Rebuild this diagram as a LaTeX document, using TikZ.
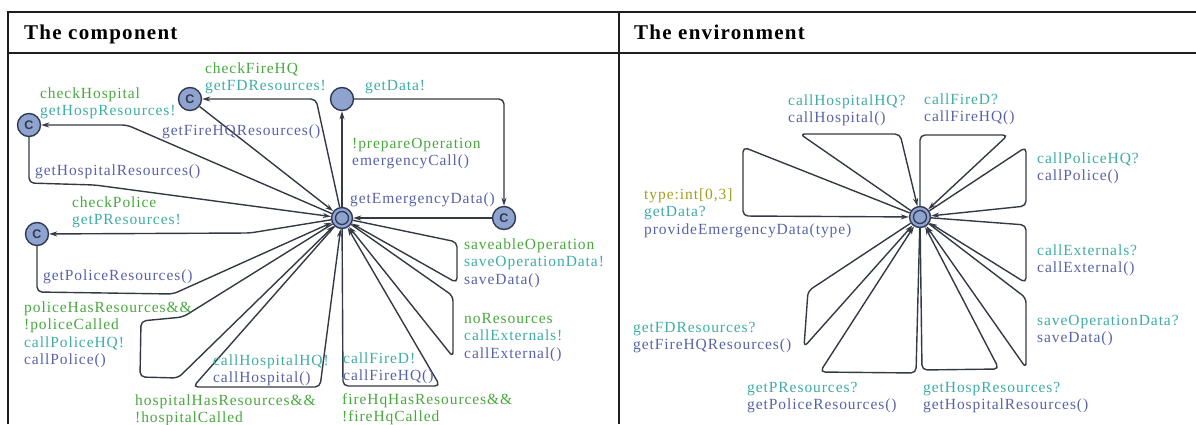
\documentclass[tikz,border=0pt]{standalone}
\usepackage{fontspec}
\setmainfont{Liberation Serif}[LetterSpace=6]
\newfontfamily\csf{Liberation Sans}
\usetikzlibrary{arrows.meta}

\definecolor{grd}{RGB}{72,168,62}
\definecolor{snc}{RGB}{62,172,165}
\definecolor{upd}{RGB}{88,98,168}
\definecolor{sel}{RGB}{160,158,32}
\definecolor{locfill}{RGB}{143,163,207}
\definecolor{locline}{RGB}{48,58,84}
\definecolor{wire}{RGB}{52,58,68}
\definecolor{frame}{RGB}{30,30,30}

% label lines: guard, sync, update, select
\newcommand\G[1]{\textcolor{grd}{#1}}
\newcommand\Sy[1]{\textcolor{snc}{#1}}
\newcommand\U[1]{\textcolor{upd}{#1}}
\newcommand\Se[1]{\textcolor{sel}{#1}}
% stacked label, baseline = first line
\newcommand\ls[1]{\vtop{\baselineskip=17.6pt\lineskip=0pt\lineskiplimit=0pt\halign{##\hfil\cr#1\crcr}}}

\tikzset{
  loc/.style={circle,draw=locline,fill=locfill,line width=1.4pt,minimum size=23pt,inner sep=0pt,
    font=\csf\bfseries\fontsize{12.5}{12.5}\selectfont\color{locline}},
  initloc/.style={circle,draw=locline,fill=locfill,line width=1.4pt,minimum size=21pt,inner sep=0pt},
  innerloc/.style={circle,draw=locline,line width=1.3pt,minimum size=13pt,inner sep=0pt},
  conn/.style={draw=wire,line width=1.4pt,rounded corners=5pt,-{Stealth[length=8pt,width=5pt,inset=2.5pt]}},
  lbl/.style={anchor=base west,inner sep=0pt,font=\fontsize{15.5}{17.6}\selectfont},
  hdr/.style={anchor=base west,inner sep=0pt,font=\bfseries\fontsize{21}{24}\selectfont},
  rule/.style={draw=frame,line width=1.4pt}
}

\begin{document}
\begin{tikzpicture}[x=1pt,y=-1pt]
\useasboundingbox (0,0) rectangle (1196,424);

% table frame
\draw[rule] (8,424) -- (8,12) -- (1196,12);
\draw[rule] (8,53) -- (1196,53);
\draw[rule] (619,12) -- (619,424);
\node[hdr] (hcomp) at (24,39) {The component};
\node[hdr] (henv) at (634,39) {The environment};

% ---------- component automaton ----------
\node[initloc] (L) at (342,218) {};
\node[innerloc] (Li) at (L) {};
\node[loc] (Chosp) at (29,125) {C};
\node[loc] (Cfire) at (190,99) {C};
\node[loc] (GD) at (342,99) {};
\node[loc] (Csave) at (504,218) {C};
\node[loc] (Cpol) at (37,234) {C};

\draw[conn] (L) -- (127,125) -- (Chosp);
\draw[conn] (Chosp) -- (29,183) -- (95,185) -- (L);
\draw[conn] (L) -- (316,99) -- (Cfire);
\draw[conn] (Cfire) -- (L);
\draw[conn] (L) -- (GD);
\draw[conn] (GD) -- (504,99) -- (Csave);
\draw[conn] (Csave) -- (L);
\draw[conn] (L) -- (250,233) -- (Cpol);
\draw[conn] (Cpol) -- (37,292) -- (173,294) -- (L);
% self loops on the main location
\draw[conn] (L) -- (183,317) -- (141,321) -- (140,377) -- (178,378) -- (L);
\draw[conn] (L) -- (193,387) -- (320,387) -- (L);
\draw[conn] (L) -- (343,386) -- (440,386) -- (L);
\draw[conn] (L) -- (453,296) -- (453,357) -- (L);
\draw[conn] (L) -- (457,242) -- (457,283) -- (L);

\node[lbl] (t1) at (40,98) {\ls{\G{checkHospital}\cr\Sy{getHospResources!}}};
\node[lbl] (t2) at (205,73) {\ls{\G{checkFireHQ}\cr\Sy{getFDResources!}}};
\node[lbl] (t3) at (162,135) {\U{getFireHQResources()}};
\node[lbl] (t4) at (35,175) {\U{getHospitalResources()}};
\node[lbl] (t5) at (72,207) {\ls{\G{checkPolice}\cr\Sy{getPResources!}}};
\node[lbl] (t6) at (43,280) {\U{getPoliceResources()}};
\node[lbl] (t7) at (24,312) {\ls{\G{policeHasResources\&\&}\cr\G{!policeCalled}\cr\Sy{callPoliceHQ!}\cr\U{callPolice()}}};
\node[lbl] (t8) at (213,365) {\ls{\Sy{callHospitalHQ!}\cr\U{callHospital()}}};
\node[lbl] (t9) at (135,405) {\ls{\G{hospitalHasResources\&\&}\cr\G{!hospitalCalled}}};
\node[lbl] (t10) at (365,90) {\Sy{getData!}};
\node[lbl] (t11) at (352,148) {\ls{\G{!prepareOperation}\cr\U{emergencyCall()}}};
\node[lbl] (t12) at (350,203) {\U{getEmergencyData()}};
\node[lbl] (t13) at (464,249) {\ls{\G{saveableOperation}\cr\Sy{saveOperationData!}\cr\U{saveData()}}};
\node[lbl] (t14) at (464,323) {\ls{\G{noResources}\cr\Sy{callExternals!}\cr\U{callExternal()}}};
\node[lbl] (t15) at (343,363) {\ls{\Sy{callFireD!}\cr\U{callFireHQ()}}};
\node[lbl] (t16) at (342,404) {\ls{\G{fireHqHasResources\&\&}\cr\G{!fireHqCalled}}};

% ---------- environment automaton ----------
\node[initloc] (R) at (920,217) {};
\node[innerloc] (Ri) at (R) {};

\draw[conn] (R) -- (743,147) -- (743,216) -- (R);
\draw[conn] (R) -- (800,134) -- (900,134) -- (R);
\draw[conn] (R) -- (920,135) -- (1008,135) -- (R);
\draw[conn] (R) -- (1026,147) -- (1026,206) -- (R);
\draw[conn] (R) -- (1026,225) -- (1026,283) -- (R);
\draw[conn] (R) -- (1026,298) -- (1026,368) -- (R);
\draw[conn] (R) -- (922,370) -- (999,369) -- (R);
\draw[conn] (R) -- (916,373) -- (820,372) -- (R);
\draw[conn] (R) -- (808,291) -- (804,347) -- (R);

\node[lbl] (e1) at (788,105) {\ls{\Sy{callHospitalHQ?}\cr\U{callHospital()}}};
\node[lbl] (e2) at (644,199) {\ls{\Se{type:int[0,3]}\cr\Sy{getData?}\cr\U{provideEmergencyData(type)}}};
\node[lbl] (e3) at (924,104) {\ls{\Sy{callFireD?}\cr\U{callFireHQ()}}};
\node[lbl] (e4) at (1037,163) {\ls{\Sy{callPoliceHQ?}\cr\U{callPolice()}}};
\node[lbl] (e5) at (1037,255) {\ls{\Sy{callExternals?}\cr\U{callExternal()}}};
\node[lbl] (e6) at (1037,325) {\ls{\Sy{saveOperationData?}\cr\U{saveData()}}};
\node[lbl] (e7) at (923,392) {\ls{\Sy{getHospResources?}\cr\U{getHospitalResources()}}};
\node[lbl] (e8) at (633,332) {\ls{\Sy{getFDResources?}\cr\U{getFireHQResources()}}};
\node[lbl] (e9) at (747,392) {\ls{\Sy{getPResources?}\cr\U{getPoliceResources()}}};
\end{tikzpicture}
\end{document}
